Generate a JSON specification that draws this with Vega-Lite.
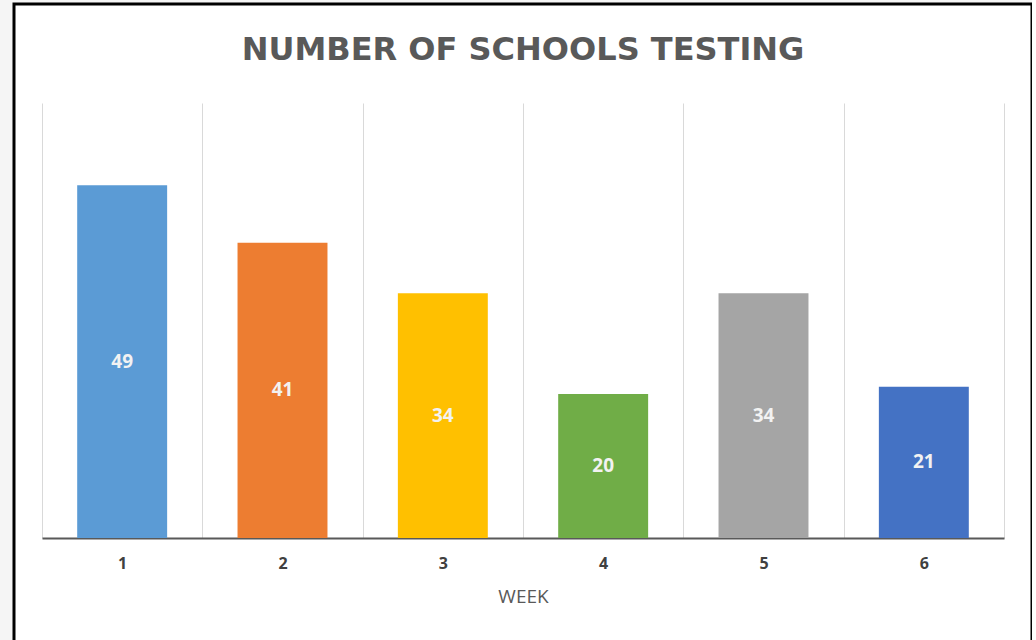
{
  "$schema": "https://vega.github.io/schema/vega-lite/v6.json",
  "width": 1018,
  "height": 680,
  "autosize": {"type": "none"},
  "padding": {"left": 14, "top": 4, "right": 0, "bottom": 0},
  "background": "#f5f5f5",
  "config": {
    "view": {"stroke": "#000000", "strokeWidth": 3, "fill": "#ffffff"}
  },
  "title": {
    "text": "NUMBER OF SCHOOLS TESTING",
    "anchor": "middle",
    "frame": "group",
    "offset": -63,
    "font": "DejaVu Sans",
    "fontSize": 32,
    "fontWeight": "bold",
    "color": "#595959",
    "limit": 0
  },
  "data": {
    "values": [
      {"week": 1, "value": 49},
      {"week": 2, "value": 41},
      {"week": 3, "value": 34},
      {"week": 4, "value": 20},
      {"week": 5, "value": 34},
      {"week": 6, "value": 21}
    ]
  },
  "encoding": {
    "x": {
      "field": "week",
      "type": "ordinal",
      "scale": {"range": [28, 990], "paddingInner": 0, "paddingOuter": 0},
      "axis": {
        "title": "WEEK",
        "orient": "bottom",
        "offset": -146,
        "domainColor": "#595959",
        "domainWidth": 2,
        "ticks": false,
        "labelAngle": 0,
        "labelFont": "Open Sans",
        "labelFontWeight": "bold",
        "labelFontSize": 16,
        "labelColor": "#404040",
        "labelPadding": 17,
        "grid": true,
        "gridColor": "#d9d9d9",
        "gridWidth": 1,
        "tickBand": "extent",
        "titleFont": "Open Sans",
        "titleFontSize": 19,
        "titleFontWeight": "normal",
        "titleColor": "#595959",
        "titlePadding": 16
      }
    }
  },
  "layer": [
    {
      "mark": {"type": "bar", "width": {"band": 0.561}},
      "encoding": {
        "y": {
          "field": "value",
          "type": "quantitative",
          "scale": {"domain": [-6.528, 53.889], "range": [581, 146], "nice": false, "zero": false},
          "axis": null
        },
        "color": {
          "field": "week",
          "type": "ordinal",
          "scale": {"range": ["#5B9BD5", "#ED7D31", "#FFC000", "#70AD47", "#A5A5A5", "#4472C4"]},
          "legend": null
        }
      }
    },
    {
      "mark": {"type": "text", "font": "Open Sans", "fontWeight": "bold", "fontSize": 19, "color": "#f2f2f2", "baseline": "middle"},
      "encoding": {
        "y": {
          "field": "value",
          "type": "quantitative",
          "scale": {"domain": [-13.056, 107.778], "range": [581, 146], "nice": false, "zero": false},
          "axis": null
        },
        "text": {"field": "value", "type": "quantitative"}
      }
    }
  ],
  "resolve": {"scale": {"y": "independent"}}
}
